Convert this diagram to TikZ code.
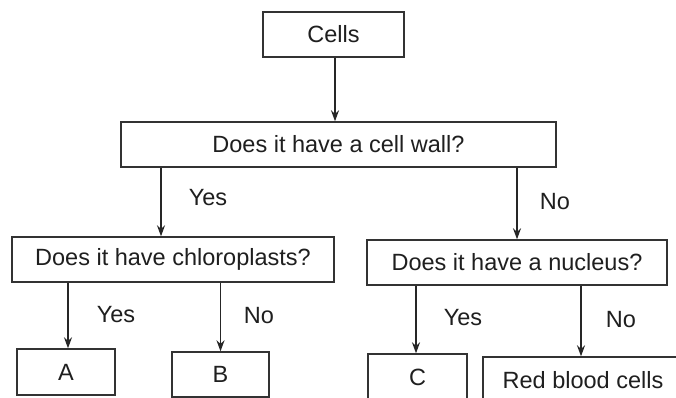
\documentclass[tikz,border=0pt]{standalone}
\usepackage{fontspec}
\setmainfont{Liberation Sans}
\usetikzlibrary{arrows.meta}
\begin{document}
\begin{tikzpicture}[x=1pt,y=-1pt,
  box/.style={draw=black!80,line width=1.4pt,inner sep=0pt,text=black!88,
    font=\fontsize{23.5}{26}\selectfont},
  arr/.style={draw=black!85,line width=1.3pt,-{Stealth[length=11pt,width=8pt]}},
  lbl/.style={text=black!88,font=\fontsize{23.5}{26}\selectfont,inner sep=0pt}]
\useasboundingbox (0,0) rectangle (676,398);
\fill[white] (0,0) rectangle (676,398);
\node[box,minimum width=141pt,minimum height=45pt] (cells) at (333.5,34.5) {Cells};
\node[box,minimum width=435pt,minimum height=45pt] (wall) at (338.5,144.5) {Does it have a cell wall?};
\node[box,minimum width=322pt,minimum height=45pt] (chl) at (173,259.5) {Does it have chloroplasts?};
\node[box,minimum width=300pt,minimum height=45pt] (nuc) at (517,262.5) {Does it have a nucleus?};
\node[box,minimum width=98pt,minimum height=46pt] (a) at (66,372) {A};
\node[box,minimum width=97pt,minimum height=45pt] (b) at (220.5,374.5) {B};
\node[box,minimum width=99pt,minimum height=46pt] (c) at (417.5,377) {C};
\node[box,minimum width=200pt,minimum height=46pt] (rbc) at (583,380) {Red blood cells};
\draw[arr] ([xshift=1.5pt]cells.south) -- ([xshift=-3.5pt]wall.north);
\draw[arr] ([xshift=-12pt]chl.north |- wall.south) -- ([xshift=-12pt]chl.north);
\draw[arr] (nuc.north |- wall.south) -- (nuc.north);
\draw[arr] ([xshift=2pt]a.north |- chl.south) -- ([xshift=2pt]a.north);
\draw[arr] (b.north |- chl.south) -- (b.north);
\draw[arr] ([xshift=-1.5pt]c.north |- nuc.south) -- ([xshift=-1.5pt]c.north);
\draw[arr] ([xshift=-2pt]rbc.north |- nuc.south) -- ([xshift=-2pt]rbc.north);
\node[lbl] (y1) at (208,198) {Yes};
\node[lbl] (n1) at (555,202) {No};
\node[lbl] (y2) at (116,315) {Yes};
\node[lbl] (n2) at (259,316) {No};
\node[lbl] (y3) at (463,318) {Yes};
\node[lbl] (n3) at (621,320) {No};
\end{tikzpicture}
\end{document}
